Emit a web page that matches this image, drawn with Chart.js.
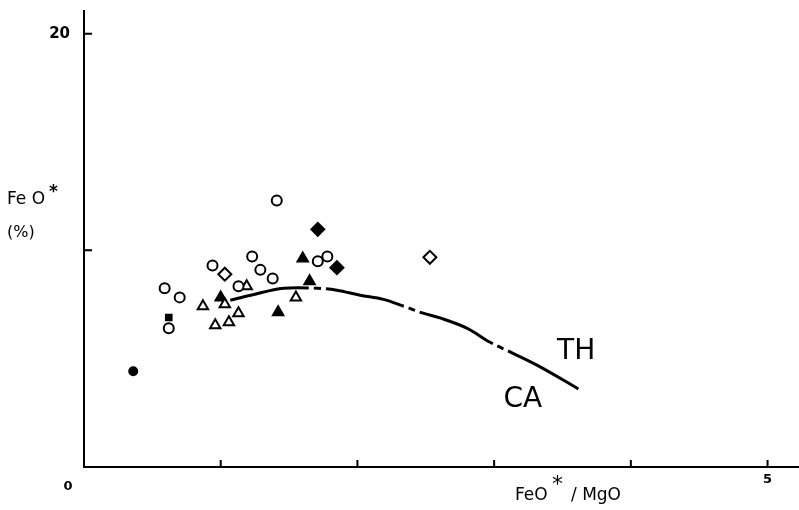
<!DOCTYPE html>
<html>
<head>
<meta charset="utf-8">
<script src="https://cdn.jsdelivr.net/npm/chart.js@4.4.0/dist/chart.umd.min.js"></script>
<style>
  body { margin: 0; background: #fff; }
  #wrap { width: 799px; height: 510px; }
</style>
</head>
<body>
<div id="wrap"><canvas id="myChart" width="799" height="510"></canvas></div>
<script>
// x = FeO*/MgO, y = FeO* (%)
const openCircleX = [1.41, 1.71, 1.78, 1.23, 0.94, 1.29, 1.38, 1.13, 0.59, 0.70, 0.62];
const openCircleY = [12.3, 9.5, 9.72, 9.72, 9.3, 9.1, 8.7, 8.34, 8.25, 7.83, 6.4];

const openTriX = [1.19, 1.55, 0.87, 1.03, 1.13, 1.06, 0.96];
const openTriY = [8.34, 7.83, 7.42, 7.51, 7.10, 6.68, 6.54];

const fillTriX = [1.60, 1.65, 1.42, 1.00];
const fillTriY = [9.63, 8.57, 7.14, 7.83];

const openDiamondX = [1.03, 2.53];
const openDiamondY = [8.9, 9.68];

const fillDiamondX = [1.71, 1.85];
const fillDiamondY = [10.97, 9.2];

const fillCircleX = [0.36];
const fillCircleY = [4.42];

const fillSquareX = [0.62];
const fillSquareY = [6.9];

// TH / CA boundary curve
const curveX = [1.07, 1.22, 1.46, 1.71, 1.85, 2.02, 2.19, 2.34, 2.48, 2.61, 2.80, 2.97, 3.12, 3.34, 3.62];
const curveY = [7.70, 7.93, 8.25, 8.25, 8.16, 7.93, 7.74, 7.42, 7.10, 6.87, 6.41, 5.76, 5.30, 4.61, 3.59];

const xTicks = [1, 2, 3, 4, 5];
const yTicks = [10, 20];

function pts(xs, ys) {
  var out = [];
  for (var i = 0; i < xs.length; i++) out.push({x: xs[i], y: ys[i]});
  return out;
}

function marks(xs, ys, style, filled, r) {
  return {
    data: pts(xs, ys),
    showLine: false,
    pointStyle: style,
    pointRadius: r,
    pointBorderWidth: 2,
    pointBorderColor: "#000",
    pointBackgroundColor: filled ? "#000" : "#fff"
  };
}

// inner ticks and free text
const extras = {
  id: "extras",
  afterDraw(chart) {
    var ctx = chart.ctx;
    var xs = chart.scales.x, ys = chart.scales.y;
    ctx.save();
    ctx.strokeStyle = "#000";
    ctx.lineWidth = 2;
    ctx.beginPath();
    for (var i = 0; i < xTicks.length; i++) {
      var px = xs.getPixelForValue(xTicks[i]);
      ctx.moveTo(px, ys.bottom);
      ctx.lineTo(px, ys.bottom - 7);
    }
    for (var j = 0; j < yTicks.length; j++) {
      var py = ys.getPixelForValue(yTicks[j]);
      ctx.moveTo(xs.left, py);
      ctx.lineTo(xs.left + 8, py);
    }
    ctx.stroke();

    ctx.fillStyle = "#000";
    ctx.textBaseline = "middle";
    ctx.textAlign = "center";
    ctx.font = "28px 'DejaVu Sans'";
    ctx.fillText("TH", xs.getPixelForValue(3.60), ys.getPixelForValue(5.30));
    ctx.fillText("CA", xs.getPixelForValue(3.21), ys.getPixelForValue(3.09));

    ctx.font = "bold 13px 'DejaVu Sans'";
    ctx.fillText("0", 68, 487);

    ctx.textAlign = "left";
    ctx.textBaseline = "alphabetic";
    ctx.font = "17px 'DejaVu Sans'";
    ctx.fillText("Fe O", 7, 204);
    ctx.font = "bold 17px 'DejaVu Sans'";
    ctx.fillText("*", 49, 197);
    ctx.font = "16px 'DejaVu Sans'";
    ctx.fillText("(%)", 7, 237);

    ctx.font = "17px 'DejaVu Sans'";
    ctx.fillText("FeO", 515, 500);
    ctx.font = "22px 'DejaVu Sans'";
    ctx.fillText("*", 552, 491);
    ctx.font = "17px 'DejaVu Sans'";
    ctx.fillText("/ MgO", 571, 500);
    ctx.restore();
  }
};

new Chart("myChart", {
  type: "scatter",
  data: {
    datasets: [
      {
        data: pts(curveX, curveY),
        showLine: true,
        borderColor: "#000",
        borderWidth: 3,
        borderDash: [80, 5, 7, 5],
        pointRadius: 0,
        tension: 0.35,
        fill: false
      },
      marks(openCircleX, openCircleY, "circle", false, 5),
      marks(openTriX, openTriY, "triangle", false, 6),
      marks(fillTriX, fillTriY, "triangle", true, 6),
      marks(openDiamondX, openDiamondY, "rectRot", false, 6.5),
      marks(fillDiamondX, fillDiamondY, "rectRot", true, 6.5),
      marks(fillCircleX, fillCircleY, "circle", true, 4),
      marks(fillSquareX, fillSquareY, "rect", true, 4)
    ]
  },
  options: {
    responsive: false,
    animation: false,
    layout: { autoPadding: false, padding: { top: 11, right: 0, left: 0, bottom: 0 } },
    plugins: { legend: { display: false }, tooltip: { enabled: false } },
    scales: {
      x: {
        type: "linear",
        min: 0,
        max: 5.23,
        grid: { display: false, drawTicks: false },
        border: { display: true, color: "#000", width: 2 },
        afterFit: function(s) { s.height = 43; s.paddingLeft = 0; s.paddingRight = 0; },
        ticks: {
          stepSize: 1,
          includeBounds: false,
          autoSkip: false,
          maxRotation: 0,
          padding: 5,
          color: "#000",
          font: { family: "DejaVu Sans", size: 13, weight: "bold" },
          callback: function(v) { return v === 5 ? "5" : ""; }
        }
      },
      y: {
        type: "linear",
        min: 0,
        max: 21.05,
        grid: { display: false, drawTicks: false },
        border: { display: true, color: "#000", width: 2 },
        afterFit: function(s) { s.width = 84; s.paddingTop = 0; s.paddingBottom = 0; },
        ticks: {
          stepSize: 10,
          includeBounds: false,
          autoSkip: false,
          padding: 14,
          color: "#000",
          font: { family: "DejaVu Sans", size: 15, weight: "bold" },
          callback: function(v) { return v === 20 ? "20" : ""; }
        }
      }
    }
  },
  plugins: [extras]
});
</script>
</body>
</html>
